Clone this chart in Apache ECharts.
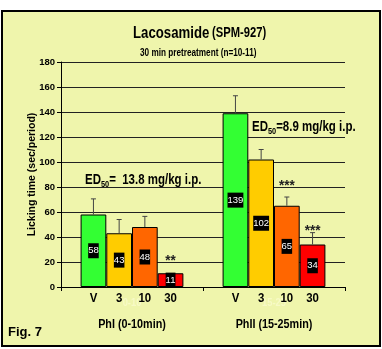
<!DOCTYPE html>
<html><head><meta charset="utf-8">
<script src="https://cdn.jsdelivr.net/npm/echarts@6/dist/echarts.min.js"></script>
<style>html,body{margin:0;padding:0;background:#fff}#c{width:382px;height:349px}</style>
</head><body><div id="c"></div>
<script>
const groups = ['PhI (0-10min)', 'PhII (15-25min)'];
const periods = ['0-10', '15-25'];
const doses = ['V', '3', '10', '30'];
const valV = [58, 139];
const val3 = [43, 102];
const val10 = [48, 65];
const val30 = [11, 34];
const errV = [70.5, 153];
const err3 = [54, 110];
const err10 = [56.5, 72];
const err30 = [null, 43.5];
const starsG1 = ['', '', '', '**'];
const starsG2 = ['', '', '***', '***'];
const starLevelG1 = [null, null, null, 24];
const starLevelG2 = [null, null, 84, 48];
const yTicks = [0, 20, 40, 60, 80, 100, 120, 140, 160, 180];
const colors = ['#33FF33', '#FFCC00', '#FF6600', '#FF0000'];

const FONT = '"Liberation Sans", Arial, sans-serif';
const BAR_FRAC = 0.181;
const values = [valV, val3, val10, val30];
const errs = [errV, err3, err10, err30];
const starSets = [starsG1, starsG2];
const starLevels = [starLevelG1, starLevelG2];

const chart = echarts.init(document.getElementById('c'), null, {renderer: 'canvas'});

const barSeries = doses.map((d, i) => ({
  type: 'bar', name: d, data: values[i],
  barWidth: (BAR_FRAC * 100) + '%', barGap: '0%',
  itemStyle: {color: colors[i], borderColor: '#000', borderWidth: 1},
  label: {show: true, position: 'inside', color: '#fff', backgroundColor: '#000',
    padding: [3, 0, 2, 0], fontSize: 9.5, fontFamily: FONT},
  z: 3
}));

const markData = [];
for (let g = 0; g < groups.length; g++) {
  for (let i = 0; i < doses.length; i++) {
    markData.push([g, i, errs[i][g], starSets[g][i], starLevels[g][i], doses[i]]);
  }
}

function scaledText(text, x, y, font, fill, sx, align, vAlign) {
  return {type: 'text', x: x, y: y, scaleX: sx,
    style: {text: text, x: 0, y: 0, align: align || 'center', verticalAlign: vAlign || 'middle', font: font, fill: fill}};
}

const markSeries = {
  type: 'custom', data: markData, clip: false, z: 5, silent: true,
  encode: {x: 0, y: 2},
  renderItem: function (params, api) {
    const row = markData[params.dataIndex];
    const g = row[0], i = row[1];
    const base = api.coord([g, 0]);
    const bw = api.size([1, 0])[0] * BAR_FRAC;
    const x = base[0] + (i - 1.5) * bw;
    const children = [];
    const err = row[2];
    const val = values[i][g];
    if (err != null) {
      const yv = api.coord([g, val])[1];
      const ye = api.coord([g, err])[1];
      children.push({type: 'line', shape: {x1: x, y1: yv, x2: x, y2: ye}, style: {stroke: '#444', lineWidth: 1}});
      children.push({type: 'line', shape: {x1: x - 2.5, y1: ye, x2: x + 2.5, y2: ye}, style: {stroke: '#444', lineWidth: 1}});
    }
    if (row[3] && row[4] != null) {
      const ys = api.coord([g, row[4]])[1];
      children.push(scaledText(row[3], x, ys + 4, 'bold 15px ' + FONT, '#222', 0.9));
    }
    children.push(scaledText(row[5], x, base[1] + 11, 'bold 13px ' + FONT, '#000', 0.88));
    if (i === 0) {
      const cx = base[0];
      children.push(scaledText(periods[g], cx, base[1] + 16, 'bold 11px ' + FONT, '#F7FAC6', 0.85));
      children.push(scaledText(groups[g], cx, base[1] + 37, 'bold 13px ' + FONT, '#000', 0.83));
    }
    return {type: 'group', children: children};
  }
};

const richED = {
  a: {fontSize: 14, fontWeight: 'bold', fontFamily: FONT, fill: '#000'},
  s: {fontSize: 9, fontWeight: 'bold', fontFamily: FONT, fill: '#000', padding: [8, 0, 0, 0]}
};

chart.setOption({
  backgroundColor: '#ffffff',
  animation: false,
  graphic: [
    {type: 'rect', z: -100, silent: true, shape: {x: 2, y: 11, width: 378, height: 335},
      style: {fill: '#EFF5AC', stroke: '#000', lineWidth: 2}},
    {type: 'text', x: 133, y: 33, scaleX: 0.8, z: 10,
      style: {text: '{a|Lacosamide} {b|(SPM-927)}', verticalAlign: 'middle', rich: {
        a: {fontSize: 16.5, fontWeight: 'bold', fontFamily: FONT, fill: '#000'},
        b: {fontSize: 14, fontWeight: 'bold', fontFamily: FONT, fill: '#000'}}}},
    {type: 'text', x: 140, y: 53, scaleX: 0.82, z: 10,
      style: {text: '30 min pretreatment (n=10-11)', verticalAlign: 'middle',
        font: 'bold 10px ' + FONT, fill: '#000'}},
    {type: 'text', x: 85, y: 172, scaleX: 0.82, z: 10,
      style: {text: '{a|ED}{s|50}{a|=  13.8 mg/kg i.p.}', rich: richED}},
    {type: 'text', x: 252, y: 119, scaleX: 0.82, z: 10,
      style: {text: '{a|ED}{s|50}{a|=8.9 mg/kg i.p.}', rich: richED}},
    {type: 'text', x: 8, y: 326, z: 10,
      style: {text: 'Fig. 7', font: 'bold 13px ' + FONT, fill: '#000'}}
  ],
  grid: {left: 61, right: 37, top: 62, bottom: 62},
  xAxis: {
    type: 'category', data: groups,
    axisLine: {lineStyle: {color: '#000', width: 1}},
    axisTick: {show: true, length: 4, lineStyle: {color: '#000'}},
    axisLabel: {show: false}
  },
  yAxis: {
    type: 'value', min: 0, max: 180, interval: 20,
    name: 'Licking time (sec/period)', nameLocation: 'middle', nameRotate: 90, nameGap: 23,
    nameMoveOverlap: false,
    nameTextStyle: {fontSize: 10.5, fontWeight: 'bold', fontFamily: FONT, color: '#000'},
    axisLine: {show: true, lineStyle: {color: '#000', width: 1}},
    axisTick: {show: true, length: 4, lineStyle: {color: '#000'}},
    axisLabel: {fontSize: 9.5, fontWeight: 'bold', fontFamily: FONT, color: '#000', margin: 6,
      formatter: function (v) { return yTicks.indexOf(v) >= 0 ? String(v) : ''; }},
    splitLine: {show: true, lineStyle: {color: '#222', width: 1}}
  },
  series: barSeries.concat([markSeries])
});
</script></body></html>
